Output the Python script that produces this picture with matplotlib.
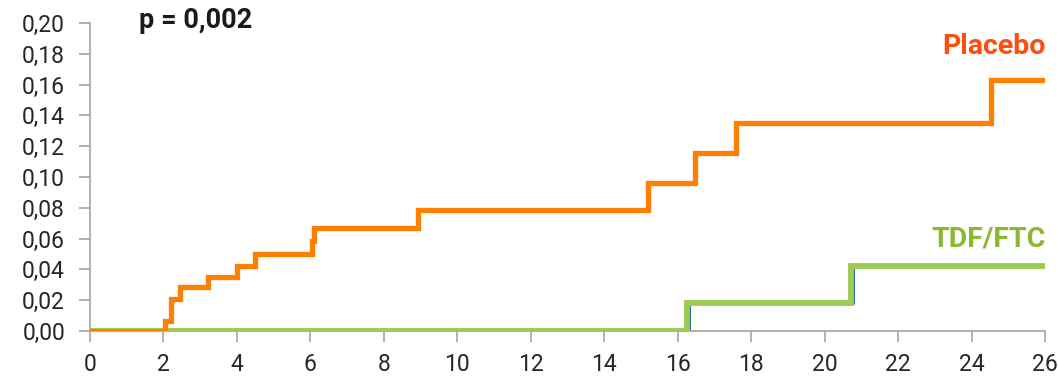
import matplotlib.pyplot as plt

# cumulative incidence, step curves (time in months)
placebo_t = [0, 2.03, 2.21, 2.46, 3.2, 4.01, 4.5, 6.05, 6.11, 8.93, 15.18, 16.48, 17.59, 24.54, 26]
placebo_y = [0, 0.0065, 0.0205, 0.0287, 0.0352, 0.0425, 0.0503, 0.0583, 0.0669, 0.0783, 0.0961, 0.1159, 0.1349, 0.1627, 0.1627]

tdf_t = [-0.08, 16.25, 20.71, 26]
tdf_y = [0, 0.0179, 0.0421, 0.0421]

# underlying km trace, drawn thin below the green one
tdf_km_t = [0, 16.32, 20.78, 26]
tdf_km_y = [0, 0.0179, 0.0421, 0.0421]

xticks = list(range(0, 27, 2))
yticks = [0.00, 0.02, 0.04, 0.06, 0.08, 0.10, 0.12, 0.14, 0.16, 0.18, 0.20]

plt.rcParams['font.family'] = ['Roboto', 'DejaVu Sans']

fig = plt.figure(figsize=(10.58, 3.76), dpi=100)
ax = fig.add_axes([90 / 1058, 45 / 376, 955 / 1058, 308 / 376])

ax.step(tdf_km_t, tdf_km_y, where='post', color='#2F6FA8', lw=2.2, zorder=2)
ax.step(tdf_t, tdf_y, where='post', color='#9BCB52', lw=4.2, zorder=3,
        solid_joinstyle='miter')
ax.step(placebo_t, placebo_y, where='post', color='#FF7F00', lw=3.8, zorder=4,
        solid_joinstyle='miter')

ax.set_xlim(0, 26)
ax.set_ylim(0, 0.20)
ax.set_xticks(xticks)
ax.set_xticklabels([str(t) for t in xticks])
ax.set_yticks(yticks)
ax.set_yticklabels([f'{v:.2f}'.replace('.', ',') for v in yticks])

for side in ['top', 'right']:
    ax.spines[side].set_visible(False)
for side in ['left', 'bottom']:
    ax.spines[side].set_color('#A6A6A6')
    ax.spines[side].set_linewidth(1.2)
ax.tick_params(axis='both', colors='#A6A6A6', length=8, width=1.2,
               labelsize=16.5, labelcolor='#262626')
ax.tick_params(axis='x', pad=8)
ax.tick_params(axis='y', pad=10)

fig.text(139 / 1058, 1 - 20 / 376, 'p = 0,002', fontsize=19.5, fontweight='bold',
         color='#1A1A1A', va='center', ha='left')
fig.text(1046 / 1058, 1 - 47 / 376, 'Placebo', fontsize=20.5, fontweight='bold',
         color='#FF4D0D', va='center', ha='right')
fig.text(1046 / 1058, 1 - 239 / 376, 'TDF/FTC', fontsize=20.5, fontweight='bold',
         color='#8AB833', va='center', ha='right')

fig.savefig('out.png', dpi=100)
